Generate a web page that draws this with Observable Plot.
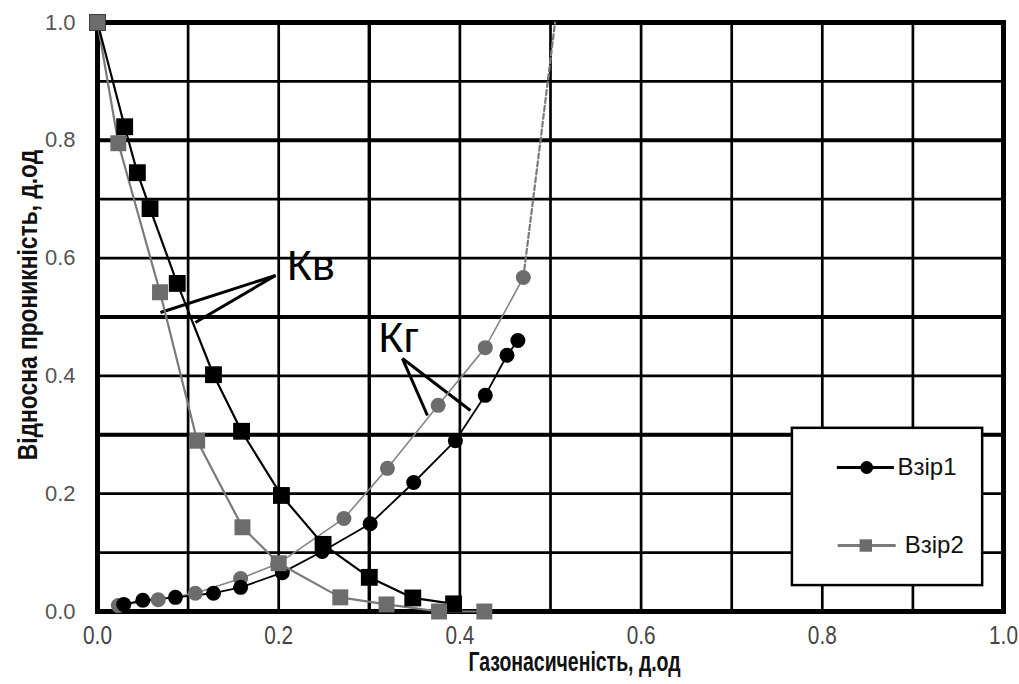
<!DOCTYPE html>
<html>
<head>
<meta charset="utf-8">
<script src="https://cdn.jsdelivr.net/npm/d3@7"></script>
<script src="https://cdn.jsdelivr.net/npm/@observablehq/plot@0.6"></script>
<style>
  html, body { margin: 0; padding: 0; background: #fff; }
  #chart svg { display: block; }
</style>
</head>
<body>
<div id="chart"></div>
<script>
// ---- data ----
// Взір1, Кв (water relative permeability)
const kvS1x = [0.000, 0.030, 0.044, 0.058, 0.088, 0.128, 0.159, 0.203, 0.249, 0.300, 0.348, 0.393];
const kvS1y = [1.000, 0.823, 0.745, 0.684, 0.557, 0.402, 0.306, 0.197, 0.114, 0.058, 0.023, 0.013];
// Взір2, Кв
const kvS2x = [0.000, 0.023, 0.069, 0.110, 0.160, 0.200, 0.268, 0.319, 0.377, 0.427];
const kvS2y = [1.000, 0.795, 0.542, 0.290, 0.143, 0.082, 0.024, 0.012, 0.000, 0.000];
// Взір1, Кг (gas relative permeability)
const kgS1x = [0.029, 0.050, 0.086, 0.128, 0.158, 0.204, 0.248, 0.301, 0.349, 0.395, 0.428, 0.452, 0.464];
const kgS1y = [0.012, 0.019, 0.024, 0.031, 0.041, 0.066, 0.102, 0.149, 0.219, 0.290, 0.367, 0.435, 0.460];
// Взір2, Кг
const kgS2x = [0.023, 0.067, 0.108, 0.158, 0.199, 0.272, 0.320, 0.376, 0.428, 0.470];
const kgS2y = [0.010, 0.020, 0.031, 0.056, 0.081, 0.158, 0.243, 0.350, 0.448, 0.567];
// Взір2, Кг dashed extrapolation
const kgS2extX = [0.470, 0.489, 0.505];
const kgS2extY = [0.567, 0.800, 1.000];

const seriesNames = ["Взір1", "Взір2"];
const xTicks = [0, 0.2, 0.4, 0.6, 0.8, 1.0];
const yTicks = [0, 0.2, 0.4, 0.6, 0.8, 1.0];
const gridValues = [0, 0.1, 0.2, 0.3, 0.4, 0.5, 0.6, 0.7, 0.8, 0.9, 1.0];
const gridYHeavy = [0.3, 0.5, 0.8];
const xLabel = "Газонасиченість, д.од";
const yLabel = "Відносна проникність, д.од";

// annotations (text + leader lines), in data units
const annoText = ["Кв", "Кг"];
const annoTextX = [0.209, 0.310];
const annoTextY = [0.562, 0.440];
const annoLines = [
  [[0.1965, 0.5705], [0.0695, 0.5076]],
  [[0.1965, 0.5705], [0.108, 0.4907]],
  [[0.3366, 0.4295], [0.3642, 0.3328]],
  [[0.3366, 0.4295], [0.4117, 0.3413]]
];

// legend placement, data units
const legendBox = {x1: 0.767, x2: 0.977, y1: 0.044, y2: 0.311};
const legendRowY = [0.2445, 0.112];

// ---- build ----
const zip = (xs, ys) => xs.map((x, i) => ({x, y: ys[i]}));
const kv1 = zip(kvS1x, kvS1y), kv2 = zip(kvS2x, kvS2y);
const kg1 = zip(kgS1x, kgS1y), kg2 = zip(kgS2x, kgS2y);
const kg2ext = zip(kgS2extX, kgS2extY);

const BLACK = "#000";
const GRAY = "#6c6c6c";
const GRAYLINE = "#7a7a7a";

const annoSegs = annoLines.map(([a, b]) => ({x1: a[0], y1: a[1], x2: b[0], y2: b[1]}));
const annoData = annoText.map((t, i) => ({t, x: annoTextX[i], y: annoTextY[i]}));

const legRows = seriesNames.map((name, i) => ({name, y: legendRowY[i]}));

const plot = Plot.plot({
  width: 1019,
  height: 684,
  marginLeft: 97,
  marginRight: 16,
  marginTop: 22,
  marginBottom: 73,
  style: {background: "#fff", fontFamily: "'Liberation Sans', Arial, sans-serif"},
  x: {domain: [0, 1]},
  y: {domain: [0, 1]},
  marks: [
    // grid
    Plot.ruleX(gridValues, {stroke: BLACK, strokeWidth: 2.7}),
    Plot.ruleY(gridValues, {stroke: BLACK, strokeWidth: 2.7}),
    Plot.ruleY(gridYHeavy, {stroke: BLACK, strokeWidth: 4}),
    Plot.ruleX([0.3], {stroke: BLACK, strokeWidth: 3.4}),
    Plot.frame({stroke: BLACK, strokeWidth: 5}),
    // axes
    Plot.axisX(xTicks, {tickSize: 0, tickPadding: 14, tickFormat: d3.format(".1f"), fontSize: 26,
      fill: "#444", label: null}),
    Plot.axisY(yTicks, {tickSize: 0, tickPadding: 22, tickFormat: d3.format(".1f"), fontSize: 22,
      fill: "#555", label: null}),
    Plot.text([xLabel], {frameAnchor: "bottom", textAnchor: "middle", dx: 24, dy: 59, fontSize: 27, fontWeight: "bold", fill: "#111"}),
    Plot.text([yLabel], {frameAnchor: "left", textAnchor: "middle", dx: -70, dy: -12, rotate: -90, fontSize: 28.5, fontWeight: "bold", fill: "#111"}),
    // annotations
    Plot.link(annoSegs, {x1: "x1", y1: "y1", x2: "x2", y2: "y2", stroke: BLACK, strokeWidth: 3}),
    Plot.text(annoData, {x: "x", y: "y", text: "t", textAnchor: "start", lineAnchor: "bottom", fontSize: 43, fill: BLACK}),
    // gas curves
    Plot.line(kg2ext, {x: "x", y: "y", stroke: GRAYLINE, strokeWidth: 2.2, strokeDasharray: "5,3"}),
    Plot.line(kg2, {x: "x", y: "y", stroke: "#858585", strokeWidth: 1.6}),
    Plot.line(kg1, {x: "x", y: "y", stroke: BLACK, strokeWidth: 1.8}),
    Plot.dot(kg2, {x: "x", y: "y", r: 7.5, fill: GRAY, symbol: "circle"}),
    Plot.dot(kg1, {x: "x", y: "y", r: 7.5, fill: BLACK, symbol: "circle"}),
    // water curves
    Plot.line(kv2, {x: "x", y: "y", stroke: GRAYLINE, strokeWidth: 2.2}),
    Plot.line(kv1, {x: "x", y: "y", stroke: BLACK, strokeWidth: 2.2}),
    Plot.dot(kv1, {x: "x", y: "y", r: 9.5, fill: BLACK, symbol: "square"}),
    Plot.dot(kv2, {x: "x", y: "y", r: 9, fill: GRAY, symbol: "square"}),
    // legend
    Plot.rect([legendBox], {x1: "x1", x2: "x2", y1: "y1", y2: "y2", fill: "#fff", stroke: BLACK, strokeWidth: 2.5}),
    Plot.link([legRows[0]], {x1: 0.816, x2: 0.879, y1: "y", y2: "y", stroke: BLACK, strokeWidth: 3}),
    Plot.dot([legRows[0]], {x: 0.849, y: "y", r: 6.5, fill: BLACK, symbol: "circle"}),
    Plot.link([legRows[1]], {x1: 0.817, x2: 0.881, y1: "y", y2: "y", stroke: GRAYLINE, strokeWidth: 3}),
    Plot.dot([legRows[1]], {x: 0.848, y: "y", r: 7, fill: GRAY, symbol: "square"}),
    Plot.text([legRows[0]], {x: 0.883, y: "y", text: "name", textAnchor: "start", fontSize: 24, fill: "#111"}),
    Plot.text([legRows[1]], {x: 0.891, y: "y", text: "name", textAnchor: "start", fontSize: 24, fill: "#111"})
  ]
});

// condensed look of the reference's axis texts (narrow face is not installed)
const svg = d3.select(plot);
const squeeze = (sel, k) => sel.each(function () {
  const t = this.getAttribute("transform") || "";
  this.setAttribute("transform", t + ` scale(${k},1)`);
});
squeeze(svg.selectAll('g[aria-label="x-axis tick label"] text'), 0.8);
squeeze(svg.selectAll("text").filter(function () { return this.textContent === xLabel; }), 0.72);
squeeze(svg.selectAll("text").filter(function () { return this.textContent === yLabel; }), 0.8);

document.getElementById("chart").appendChild(plot);
</script>
</body>
</html>
